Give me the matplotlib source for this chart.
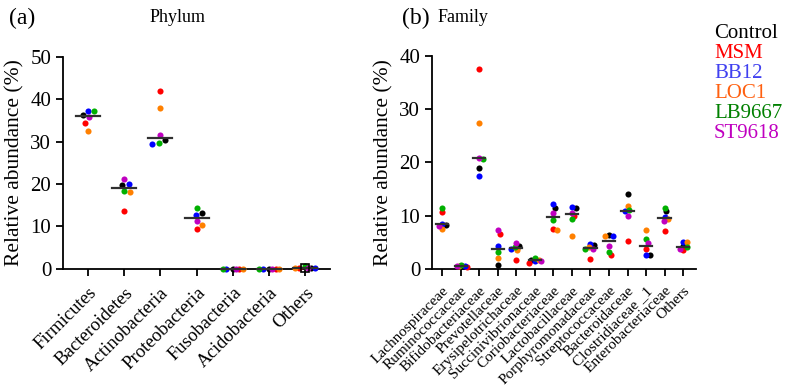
import numpy as np
import matplotlib
matplotlib.use("Agg")
import matplotlib.pyplot as plt

plt.rcParams.update({
    "font.family": ["Liberation Serif", "DejaVu Serif"],
    "axes.spines.top": False,
    "axes.spines.right": False,
    "axes.linewidth": 1.3,
    "xtick.major.width": 1.3,
    "ytick.major.width": 1.3,
    "xtick.major.size": 5,
    "ytick.major.size": 5,
})

groups = ["Control", "MSM", "BB12", "LOC1", "LB9667", "ST9618"]
dot_colors = ["#000000", "#FF0000", "#0000FF", "#FF8000", "#00B000", "#C000C0"]
text_colors = ["#000000", "#FF0000", "#4040F0", "#FF6010", "#008000", "#C000C0"]

phyla = ["Firmicutes", "Bacteroidetes", "Actinobacteria", "Proteobacteria",
         "Fusobacteria", "Acidobacteria", "Others"]
# rows: phylum, columns: Control, MSM, BB12, LOC1, LB9667, ST9618
phylum_vals = [
    [36.3, 34.5, 37.2, 32.5, 37.2, 35.7],
    [19.7, 13.7, 20.1, 18.2, 18.3, 21.1],
    [30.4, 42.0, 29.5, 38.0, 29.8, 31.5],
    [13.3, 9.3, 12.8, 10.4, 14.3, 11.2],
    [0.05, 0.05, 0.05, 0.05, 0.05, 0.05],
    [0.05, 0.05, 0.05, 0.05, 0.05, 0.05],
    [0.2, 0.2, 0.2, 0.1, 0.6, 0.1],
]

families = ["Lachnospiraceae", "Ruminococcaceae", "Bifidobacteriaceae",
            "Prevotellaceae", "Erysipelotrichaceae", "Succinivibrionaceae",
            "Coriobacteriaceae", "Lactobacillaceae", "Porphyromonadaceae",
            "Streptococcaceae", "Bacteroidaceae", "Clostridiaceae _1",
            "Enterobacteriaceae", "Others"]
family_vals = [
    [8.2, 10.7, 8.5, 7.4, 11.5, 8.0],
    [0.5, 0.4, 0.6, 0.5, 0.7, 0.6],
    [18.9, 37.6, 17.4, 27.4, 20.6, 20.9],
    [0.7, 6.6, 4.3, 2.0, 3.1, 7.2],
    [4.2, 1.6, 3.8, 3.5, 4.1, 4.8],
    [1.6, 1.1, 1.5, 1.7, 2.0, 1.45],
    [11.5, 7.5, 12.2, 7.3, 9.1, 10.4],
    [11.4, 9.9, 11.7, 6.1, 9.3, 10.5],
    [4.5, 1.8, 4.7, 4.0, 3.7, 3.8],
    [6.3, 2.6, 6.2, 6.1, 3.2, 4.3],
    [14.0, 5.3, 10.8, 11.8, 11.1, 9.9],
    [2.5, 3.7, 2.6, 7.2, 5.5, 4.8],
    [10.8, 7.1, 9.8, 9.3, 11.5, 9.0],
    [4.2, 3.5, 5.1, 5.1, 4.0, 3.8],
]


def swarm_offsets(vals, px_x, px_y, d, maxw):
    """simple beeswarm, limited to +-maxw pixels (dots may overlap then)"""
    vals = np.asarray(vals, float)
    steps = np.arange(0, maxw + 0.01, 0.5)
    cands = sorted(list(steps) + list(-steps[1:]), key=abs)
    placed = []
    offs = np.zeros(len(vals))
    for i in np.argsort(-vals, kind="stable"):
        y = vals[i] * px_y
        best, best_gap = 0.0, -1
        for c in cands:
            gap = min([np.hypot(c - ox, y - oy) for ox, oy in placed] or [1e9])
            if gap >= d:
                best = c
                break
            if gap > best_gap + 0.3:
                best, best_gap = c, gap
        placed.append((best, y))
        offs[i] = best
    return offs / px_x


def dot_panel(fig, ax, cats, data, ymax, yticks, xlim, label_size, d, maxw):
    ax.set_xlim(*xlim)
    ax.set_ylim(0, ymax)
    bbox = ax.get_position()
    W, H = fig.get_size_inches() * fig.dpi
    px_x = bbox.width * W / (xlim[1] - xlim[0])
    px_y = bbox.height * H / ymax
    for k, vals in enumerate(data):
        offs = swarm_offsets(vals, px_x, px_y, d, maxw)
        for j, v in enumerate(vals):
            ax.plot(k + offs[j], v, "o", ms=4.4, mec="none",
                    color=dot_colors[j], clip_on=False, zorder=3)
        med = np.median(vals)
        ax.plot([k - 0.33, k + 0.33], [med, med], color="#303030",
                lw=1.6, zorder=4, clip_on=False)
    ax.set_yticks(yticks)
    ax.set_xticks(range(len(cats)))
    ax.set_xticklabels(cats, rotation=45, ha="right", va="top",
                       rotation_mode="anchor", fontsize=label_size)
    ax.tick_params(axis="x", pad=6)
    ax.tick_params(axis="y", labelsize=15)
    ax.set_ylabel("Relative abundance (%)", fontsize=15.5, labelpad=4)


fig = plt.figure(figsize=(7.87, 3.92), dpi=100)
ax1 = fig.add_axes([0.080, 0.314, 0.339, 0.541])
ax2 = fig.add_axes([0.549, 0.3145, 0.336, 0.5425])

dot_panel(fig, ax1, phyla, phylum_vals, 50, range(0, 51, 10),
          (-0.68, 6.67), 13.5, 6.2, 10)
dot_panel(fig, ax2, families, family_vals, 40, range(0, 41, 10),
          (-0.54, 13.72), 11, 4.0, 6)

# hollow box around the "Others" median in panel (a)
ax1.plot(6, np.median(phylum_vals[-1]), "s", ms=6, mfc="none", mec="black",
         mew=1.2, zorder=5, clip_on=False)

fig.text(22 / 787, 1 - 18 / 392, "(a)", fontsize=17, ha="center", va="center")
fig.text(416 / 787, 1 - 18 / 392, "(b)", fontsize=17, ha="center", va="center")
fig.text(178 / 787, 1 - 18 / 392, "Phylum", fontsize=13, ha="center", va="center")
fig.text(463 / 787, 1 - 18 / 392, "Family", fontsize=13, ha="center", va="center")

for i, (g, c) in enumerate(zip(groups, text_colors)):
    fig.text(714 / 787, 1 - (34 + 20 * i) / 392, g, color=c, fontsize=15,
             ha="left", va="center")

fig.savefig("out.png", dpi=100)
